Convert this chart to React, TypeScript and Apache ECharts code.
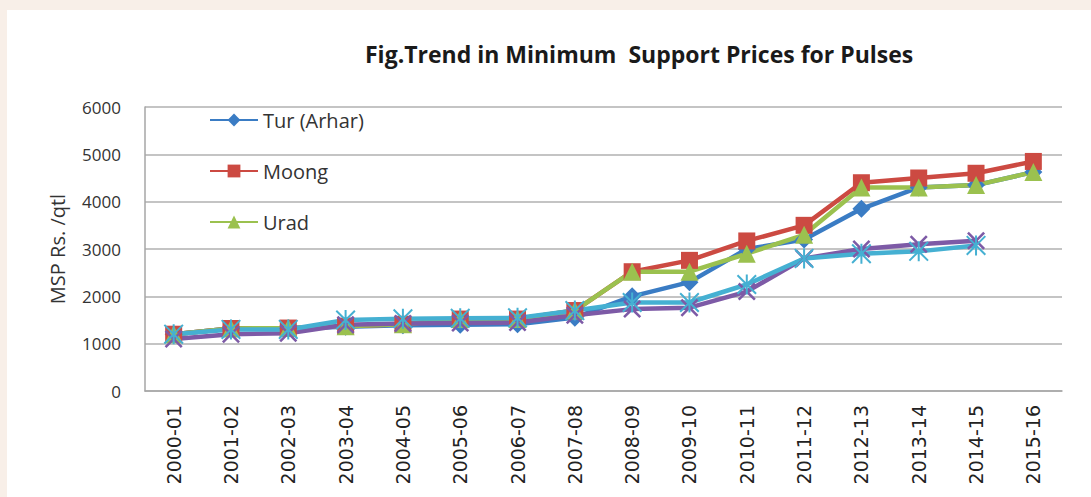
import React, { useEffect, useRef } from "react";
import * as echarts from "echarts";

const years = [
  "2000-01", "2001-02", "2002-03", "2003-04", "2004-05", "2005-06", "2006-07", "2007-08",
  "2008-09", "2009-10", "2010-11", "2011-12", "2012-13", "2013-14", "2014-15", "2015-16",
];
const tur = [1200, 1320, 1320, 1360, 1390, 1400, 1410, 1550, 2000, 2300, 3000, 3200, 3850, 4300, 4350, 4625];
const moong = [1200, 1320, 1330, 1370, 1410, 1520, 1520, 1700, 2520, 2760, 3170, 3500, 4400, 4500, 4600, 4850];
const urad = [1200, 1320, 1330, 1370, 1410, 1520, 1520, 1700, 2520, 2520, 2900, 3300, 4300, 4300, 4350, 4625];
const gram = [1100, 1200, 1220, 1400, 1425, 1435, 1445, 1600, 1730, 1760, 2100, 2800, 3000, 3100, 3175, null];
const masur = [1200, 1300, 1300, 1500, 1525, 1535, 1545, 1700, 1870, 1870, 2250, 2800, 2900, 2950, 3075, null];
const yTicks = { min: 0, max: 6000, interval: 1000 };

const TITLE = "Fig.Trend in Minimum  Support Prices for Pulses";
const Y_NAME = "MSP Rs. /qtl";

const X_SYMBOL = "path://M0,2 L2,0 L10,8 L18,0 L20,2 L12,10 L20,18 L18,20 L10,12 L2,20 L0,18 L8,10 Z";
const STAR_SYMBOL =
  "path://M9,0 H11 V20 H9 Z M0,1.4 L1.4,0 L20,18.6 L18.6,20 Z M18.6,0 L20,1.4 L1.4,20 L0,18.6 Z";

export default function App() {
  const ref = useRef<HTMLDivElement>(null);
  useEffect(() => {
    if (!ref.current) return;
    const chart = echarts.init(ref.current, null, { renderer: "svg" });
    const mk = (name: string, data: any[], color: string, symbol: string, size: number) => ({
      name,
      type: "line",
      data,
      symbol,
      symbolSize: size,
      showAllSymbol: true,
      lineStyle: { color, width: 4.5 },
      itemStyle: { color, borderWidth: 0 },
      emphasis: { disabled: true },
    });
    chart.setOption({
      animation: false,
      backgroundColor: "transparent",
      graphic: [
        {
          type: "text",
          left: 365,
          top: 42,
          style: {
            text: TITLE,
            font: "bold 23px 'Open Sans', sans-serif",
            fill: "#1a1a1a",
          },
        },
      ],
      grid: { left: 145, right: 29, top: 107, bottom: 106, containLabel: false },
      legend: {
        data: ["Tur (Arhar)", "Moong", "Urad"],
        orient: "vertical",
        left: 204,
        top: 105,
        itemWidth: 48,
        itemHeight: 16,
        itemGap: 31,
        textStyle: { fontSize: 20, fontFamily: "'Open Sans', sans-serif", color: "#333" },
      },
      xAxis: {
        type: "category",
        data: years,
        boundaryGap: true,
        axisLine: { lineStyle: { color: "#a6a6a6", width: 1.5 } },
        axisTick: { show: false },
        axisLabel: {
          rotate: 90,
          interval: 0,
          margin: 14,
          fontSize: 19,
          fontFamily: "'DejaVu Sans', sans-serif",
          color: "#222",
        },
        splitLine: { show: false },
      },
      yAxis: {
        type: "value",
        min: yTicks.min,
        max: yTicks.max,
        interval: yTicks.interval,
        name: Y_NAME,
        nameLocation: "middle",
        nameGap: 78,
        nameRotate: 90,
        nameTextStyle: { fontSize: 20, fontFamily: "'Open Sans', sans-serif", color: "#333" },
        axisLine: { show: true, lineStyle: { color: "#a6a6a6", width: 1.5 } },
        axisTick: { show: false },
        axisLabel: {
          fontSize: 17,
          fontFamily: "'Open Sans', sans-serif",
          color: "#333",
          margin: 24,
          formatter: (v: number) => String(v),
        },
        splitLine: { lineStyle: { color: "#b0b0b0", width: 1.5 } },
      },
      series: [
        mk("Tur (Arhar)", tur, "#3a7cc4", "diamond", 18),
        mk("Moong", moong, "#cc4a42", "rect", 17),
        mk("Urad", urad, "#9bc14f", "triangle", 18),
        mk("Gram", gram, "#7d5aa6", X_SYMBOL, 18),
        mk("Masur", masur, "#45b0d2", STAR_SYMBOL, 20),
      ],
    });
    return () => chart.dispose();
  }, []);
  return (
    <div
      style={{
        position: "fixed",
        left: 0,
        top: 0,
        width: 1091,
        height: 497,
        background: "#f8efe8",
        overflow: "hidden",
      }}
    >
      <div style={{ position: "absolute", left: 7, top: 10, right: 0, bottom: 0, background: "#ffffff" }} />
      <div ref={ref} style={{ position: "absolute", left: 0, top: 0, width: 1091, height: 497 }} />
    </div>
  );
}
